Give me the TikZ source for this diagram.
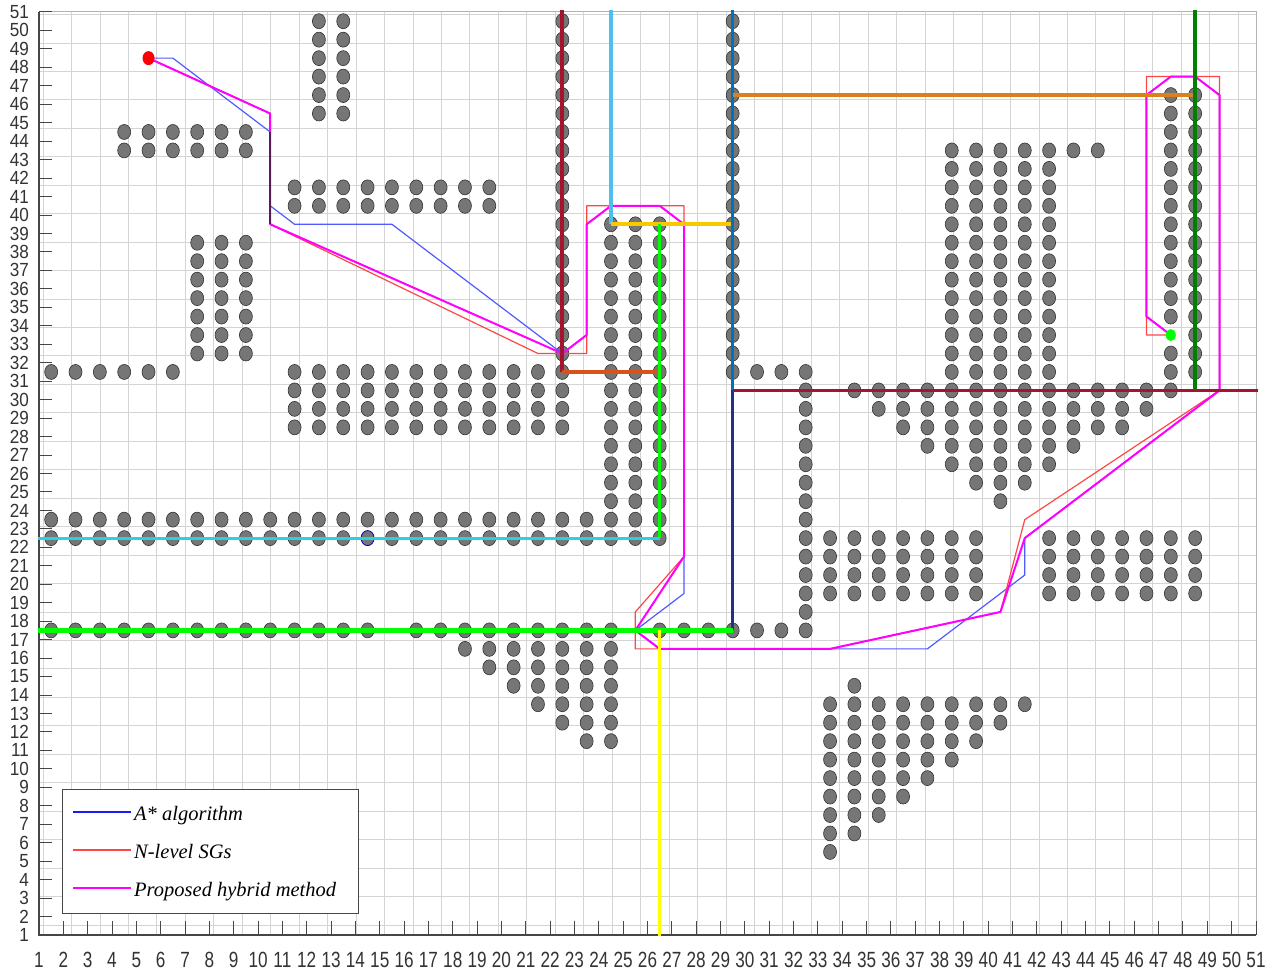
\documentclass[tikz,border=0pt]{standalone}
\usepackage{fontspec}
\setmainfont{Liberation Serif}
\newfontfamily\axfont[FakeStretch=0.78]{Liberation Sans}
\newfontfamily\ayfont[FakeStretch=0.9]{Liberation Sans}
\definecolor{obsgray}{RGB}{118,118,118}
\definecolor{obsedge}{RGB}{50,50,50}
\definecolor{gridc}{RGB}{212,212,212}
\definecolor{axc}{RGB}{70,70,70}
\definecolor{pblue}{RGB}{80,90,255}
\definecolor{pred}{RGB}{255,70,70}
\definecolor{pmag}{RGB}{255,0,255}
\definecolor{dred}{RGB}{162,20,47}
\definecolor{ored}{RGB}{217,83,25}
\definecolor{lblue}{RGB}{77,190,238}
\definecolor{gold}{RGB}{250,200,0}
\definecolor{mblue}{RGB}{0,114,189}
\definecolor{navy}{RGB}{30,50,140}
\definecolor{orng}{RGB}{217,130,26}
\definecolor{dgreen}{RGB}{0,128,0}
\definecolor{lime}{RGB}{0,255,0}
\definecolor{cyn}{RGB}{40,210,230}
\definecolor{yel}{RGB}{255,255,0}
\definecolor{dpurp}{RGB}{90,25,90}
\newcommand\blk[4]{\foreach \i in {#1,...,#2}{\foreach \j in {#3,...,#4}{\filldraw[obst] (\i+0.5,\j+0.5) ellipse [x radius=6.5pt, y radius=7.5pt];}}}
\newcommand\one[2]{\filldraw[obst] (#1+0.5,#2+0.5) ellipse [x radius=6.5pt, y radius=7.5pt];}
\begin{document}
\begin{tikzpicture}[x=24.34pt,y=18.46pt,
  obst/.style={fill=obsgray, draw=obsedge, line width=0.6pt},
  gridline/.style={draw=gridc, line width=0.9pt},
  axline/.style={draw=axc, line width=1.2pt},
  tickline/.style={draw=axc, line width=1pt},
  xlab/.style={font=\axfont\fontsize{22}{22}\selectfont, text=black!80, inner sep=0pt},
  ylab/.style={font=\ayfont\fontsize{19}{19}\selectfont, text=black!80, inner sep=0pt, anchor=east},
  pathA/.style={draw=pblue, line width=1.2pt, line join=round},
  pathN/.style={draw=pred, line width=1.2pt, line join=round},
  pathH/.style={draw=pmag, line width=2pt, line join=round},
  sg/.style={line width=3.8pt},
  legendbox/.style={draw=axc, fill=white, line width=0.9pt, inner sep=0pt},
  legtext/.style={font=\itshape\fontsize{20.5}{20.5}\selectfont, inner sep=0pt, anchor=base west}]
\useasboundingbox (-14.66pt,-20.54pt) rectangle ++(1274pt,974pt);
% grid
\draw[gridline] (1,1) grid (51,51);
\draw[draw=gray!60, line width=1pt] (1,51) -- (51,51) -- (51,1);
% obstacles
\blk{12}{13}{45}{50}
\blk{4}{9}{43}{44}
\blk{11}{19}{40}{41}
\blk{7}{9}{32}{38}
\blk{1}{6}{31}{31}
\blk{11}{22}{28}{31}
\blk{22}{22}{32}{50}
\blk{24}{26}{22}{39}
\blk{1}{23}{23}{23}
\blk{1}{13}{22}{22}
\blk{15}{23}{22}{22}
\filldraw[fill=obsgray, draw=blue!70!black, line width=0.8pt] (14.5,22.5) ellipse [x radius=6.5pt, y radius=7.5pt];
\blk{29}{29}{31}{50}
\blk{30}{32}{31}{31}
\blk{32}{32}{17}{30}
\blk{1}{14}{17}{17}
\blk{16}{24}{17}{17}
\blk{26}{31}{17}{17}
\blk{18}{24}{16}{16}
\blk{19}{24}{15}{15}
\blk{20}{24}{14}{14}
\blk{21}{24}{13}{13}
\blk{22}{24}{12}{12}
\blk{23}{24}{11}{11}
\blk{33}{39}{19}{22}
\blk{42}{48}{19}{22}
\blk{33}{33}{5}{13}
\blk{34}{34}{6}{14}
\blk{35}{35}{7}{13}
\blk{36}{36}{8}{13}
\blk{37}{37}{9}{13}
\blk{38}{38}{10}{13}
\blk{39}{39}{11}{13}
\blk{40}{40}{12}{13}
\one{41}{13}
\blk{38}{42}{31}{43}
\one{43}{43}
\one{44}{43}
\blk{34}{47}{30}{30}
\blk{35}{46}{29}{29}
\blk{36}{45}{28}{28}
\blk{37}{43}{27}{27}
\blk{38}{42}{26}{26}
\blk{39}{41}{25}{25}
\one{40}{24}
\blk{48}{48}{31}{46}
\blk{47}{47}{34}{46}
\blk{47}{47}{31}{32}
% axes
\draw[axline] (1,51) -- (1,1) -- (51,1);
\foreach \i in {2,...,51} \draw[tickline] (\i,1) -- ++(0,14pt);
\foreach \j in {2,...,51} \draw[tickline] (1,\j) -- ++(13pt,0);
\foreach \i in {1,...,51} \node[xlab] (xl\i) at ([yshift=-25pt]\i,1) {\i};
\foreach \j in {1,...,51} \node[ylab] (yl\j) at ([xshift=-10pt]1,\j) {\j};
% paths
\draw[pathA] (5.5,48.5) -- (6.5,48.5) -- (10.5,44.5) -- (10.5,40.5) -- (11.5,39.5) -- (15.5,39.5) -- (22.5,32.5) -- (23.5,33.5) -- (23.5,39.5) -- (24.5,40.5) -- (26.5,40.5) -- (27.5,39.5) -- (27.5,19.5) -- (25.5,17.5) -- (26.5,16.5) -- (37.5,16.5) -- (41.5,20.5) -- (41.5,22.5) -- (49.5,30.5) -- (49.5,46.5) -- (48.5,47.5) -- (47.5,47.5) -- (46.5,46.5) -- (46.5,34.5) -- (47.5,33.5);
\draw[pathN] (5.5,48.5) -- (10.5,45.5) -- (10.5,39.5) -- (21.5,32.5) -- (23.5,32.5) -- (23.5,40.5) -- (27.5,40.5) -- (27.5,21.5) -- (25.5,18.5) -- (25.5,16.5) -- (26.5,16.5) -- (33.5,16.5) -- (40.5,18.5) -- (41.5,23.5) -- (49.5,30.5) -- (49.5,47.5) -- (46.5,47.5) -- (46.5,33.5) -- (47.5,33.5);
\draw[pathH] (5.5,48.5) -- (10.5,45.5) -- (10.5,39.5) -- (22.5,32.5) -- (23.5,33.5) -- (23.5,39.5) -- (24.5,40.5) -- (26.5,40.5) -- (27.5,39.5) -- (27.5,21.5) -- (25.5,17.5) -- (26.5,16.5) -- (33.5,16.5) -- (40.5,18.5) -- (41.5,22.5) -- (49.5,30.5) -- (49.5,46.5) -- (48.5,47.5) -- (47.5,47.5) -- (46.5,46.5) -- (46.5,34.5) -- (47.5,33.5);
\draw[draw=dpurp, line width=1.6pt] (10.5,44.5) -- (10.5,39.5);
% sub-goal lines
\draw[sg, draw=dred] (22.5,51.1) -- (22.5,31.5);
\draw[sg, draw=ored] (22.5,31.5) -- (26.5,31.5);
\draw[sg, draw=lblue, line width=3.2pt] (24.5,51.1) -- (24.5,39.5);
\draw[sg, draw=gold] (24.5,39.5) -- (29.5,39.5);
\draw[sg, draw=mblue, line width=3.2pt] (29.5,51.1) -- (29.5,30.5);
\draw[sg, draw=navy, line width=3.2pt] (29.5,30.5) -- (29.5,17.5);
\draw[sg, draw=orng] (29.5,46.5) -- (48.5,46.5);
\draw[sg, draw=dred] (29.5,30.5) -- (51.1,30.5);
\draw[sg, draw=dgreen] (48.5,51.1) -- (48.5,30.5);
\draw[sg, draw=lime, line width=3.2pt] (26.5,39.5) -- (26.5,22.5);
\draw[sg, draw=cyn, line width=3pt] (26.5,22.5) -- (0.96,22.5);
\draw[sg, draw=lime, line width=5pt] (0.96,17.5) -- (29.5,17.5);
\draw[sg, draw=yel, line width=3.2pt] (26.5,17.5) -- (26.5,0.95);
% start and goal
\fill[red] (5.5,48.5) ellipse [x radius=6pt, y radius=7pt];
\fill[lime] (47.5,33.5) ellipse [x radius=5pt, y radius=6pt];
% legend
\node[legendbox, minimum width=296pt, minimum height=124pt, anchor=south west] (lgd) at (47.34pt,39.46pt) {};
\draw[pathA, line width=1.8pt, draw=blue!90] ([xshift=11pt,yshift=-23pt]lgd.north west) -- ++(58pt,0);
\draw[pathN, line width=1.8pt] ([xshift=11pt,yshift=-61pt]lgd.north west) -- ++(58pt,0);
\draw[pathH, line width=1.8pt] ([xshift=11pt,yshift=-99pt]lgd.north west) -- ++(58pt,0);
\node[legtext] (l1) at ([xshift=72pt,yshift=-31pt]lgd.north west) {A* algorithm};
\node[legtext] (l2) at ([xshift=72pt,yshift=-69pt]lgd.north west) {N-level SGs};
\node[legtext] (l3) at ([xshift=72pt,yshift=-107pt]lgd.north west) {Proposed hybrid method};
\end{tikzpicture}
\end{document}
